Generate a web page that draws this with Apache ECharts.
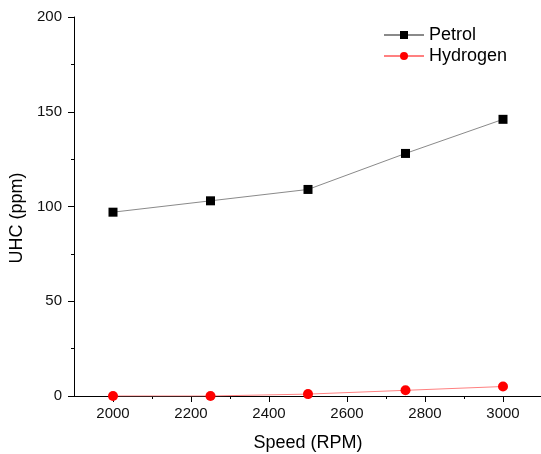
<!DOCTYPE html>
<html><head><meta charset="utf-8">
<script src="https://cdn.jsdelivr.net/npm/echarts@6/dist/echarts.min.js"></script>
<style>html,body{margin:0;padding:0;background:#fff}#c{width:541px;height:454px}</style>
</head><body><div id="c"></div>
<script>
const speeds = [2000, 2250, 2500, 2750, 3000];
const petrol = [97, 103, 109, 128, 146];
const hydrogen = [0, 0, 1, 3, 5];
const xMajorTicks = [2000, 2200, 2400, 2600, 2800, 3000];
const xMinorTicks = [2100, 2300, 2500, 2700, 2900];
const font = 'Liberation Sans, Arial, sans-serif';

const chart = echarts.init(document.getElementById('c'));
chart.setOption({
  animation: false,
  backgroundColor: '#fff',
  grid: {left: 74, top: 17, width: 468, bottom: 58, containLabel: false, outerBoundsMode: 'none'},
  legend: {
    orient: 'vertical', left: 378, top: 21, itemWidth: 40, itemHeight: 10, itemGap: 3,
    textStyle: {fontFamily: font, fontSize: 18, color: '#000'},
    data: ['Petrol', 'Hydrogen']
  },
  xAxis: [{
    type: 'value', min: 1900, max: 3100,
    name: 'Speed (RPM)', nameLocation: 'middle', nameGap: 38,
    nameTextStyle: {fontFamily: font, fontSize: 18, color: '#000'},
    axisLine: {show: true, lineStyle: {color: '#000', width: 1}},
    axisTick: {show: true, length: 6, customValues: xMajorTicks, lineStyle: {color: '#000'}},
    axisLabel: {customValues: xMajorTicks, formatter: v => String(v), fontFamily: font, fontSize: 15, color: '#111', margin: 10},
    splitLine: {show: false}
  }, {
    type: 'value', min: 1900, max: 3100, position: 'bottom',
    axisLine: {show: false},
    axisTick: {show: true, length: 3, customValues: xMinorTicks, lineStyle: {color: '#000'}},
    axisLabel: {show: false},
    splitLine: {show: false}
  }],
  yAxis: {
    type: 'value', min: 0, max: 200, interval: 50,
    name: 'UHC (ppm)', nameLocation: 'middle', nameGap: 47,
    nameTextStyle: {fontFamily: font, fontSize: 18, color: '#000', padding: [0, 23, 0, 0]},
    axisLine: {show: true, lineStyle: {color: '#000', width: 1}},
    axisTick: {show: true, length: 6, lineStyle: {color: '#000'}},
    minorTick: {show: true, splitNumber: 2, length: 3, lineStyle: {color: '#000'}},
    axisLabel: {fontFamily: font, fontSize: 15, color: '#111', margin: 12},
    splitLine: {show: false}
  },
  series: [{
    name: 'Petrol', type: 'line', xAxisIndex: 0,
    data: speeds.map((s, i) => [s, petrol[i]]),
    symbol: 'rect', symbolSize: 9,
    itemStyle: {color: '#000'},
    lineStyle: {color: '#8a8a8a', width: 1}
  }, {
    name: 'Hydrogen', type: 'line', xAxisIndex: 0,
    data: speeds.map((s, i) => [s, hydrogen[i]]),
    symbol: 'circle', symbolSize: 10,
    itemStyle: {color: '#ff0000'},
    lineStyle: {color: '#ff8080', width: 1}
  }]
});
</script></body></html>
